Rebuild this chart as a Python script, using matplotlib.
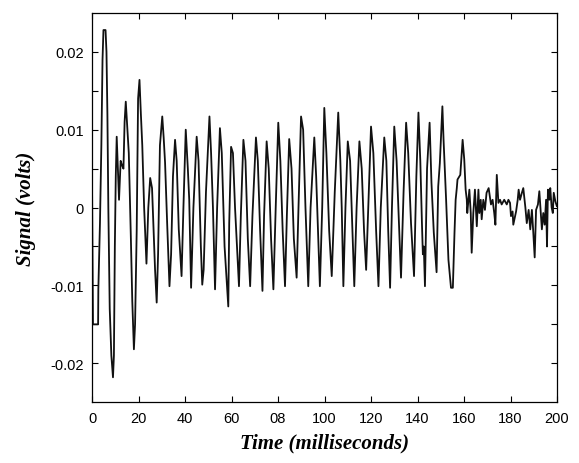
import matplotlib
matplotlib.use("Agg")
import matplotlib.pyplot as plt
from matplotlib.ticker import FixedLocator, FixedFormatter

# values (time in ms, signal in volts)
time_ms = [
    0.0, 0.4, 2.6, 2.7, 3.4, 4.0, 4.5, 4.9, 5.8, 6.2, 6.6, 7.0, 7.6, 8.3, 9.0, 9.4,
    9.8, 10.2, 10.6, 11.0, 11.6, 12.3, 12.8, 13.5, 14.0, 14.5, 15.2, 15.8, 16.7, 17.3,
    18.0, 18.5, 19.2, 19.8, 20.4, 21.0, 21.6, 22.4, 23.4, 24.2, 25.0, 25.8, 26.5, 27.1,
    27.8, 28.4, 29.2, 30.2, 30.8, 31.4, 32.3, 33.3, 34.0, 34.8, 35.7, 36.4, 37.3, 38.5,
    39.3, 40.3, 41.2, 41.8, 42.6, 43.6, 45.0, 45.8, 46.8, 47.4, 48.0, 49.0, 50.5, 51.2,
    52.0, 52.9, 53.8, 55.0, 55.8, 57.0, 58.6, 59.0, 59.8, 60.6, 61.5, 63.2, 64.0, 65.1,
    66.0, 67.0, 68.0, 69.0, 70.5, 71.3, 72.3, 73.3, 74.0, 75.1, 76.0, 77.0, 78.0, 79.0,
    80.1, 81.0, 82.0, 83.0, 83.8, 84.8, 85.8, 86.8, 88.0, 88.8, 89.9, 90.8, 91.8, 93.0,
    94.0, 95.6, 96.4, 97.2, 98.0, 99.0, 99.9, 100.8, 102.0, 103.1, 104.4, 105.9, 106.8,
    107.4, 108.1, 109.0, 110.0, 111.0, 112.0, 112.8, 113.8, 115.0, 116.0, 117.0, 117.9,
    118.8, 120.0, 121.0, 122.2, 123.2, 124.2, 125.7, 126.6, 127.4, 128.2, 129.0, 130.0,
    131.0, 132.0, 132.9, 134.0, 135.1, 136.0, 137.2, 138.5, 139.5, 140.4, 141.2, 141.9,
    142.3, 142.7, 143.2, 144.1, 145.2, 146.0, 147.0, 148.2, 148.9, 149.6, 150.7, 151.2,
    152.3, 153.3, 154.4, 155.2, 155.9, 156.4, 156.9, 157.2, 158.4, 159.4, 160.1, 160.7,
    161.2, 161.4, 162.3, 162.9, 163.3, 164.0, 164.7, 165.5, 166.2, 166.6, 167.2, 167.6,
    168.3, 169.0, 169.7, 170.6, 171.6, 172.3, 173.0, 173.5, 174.1, 174.8, 175.5, 176.2,
    177.3, 178.4, 179.1, 179.8, 180.2, 180.9, 181.2, 182.4, 183.1, 183.5, 184.1, 184.9,
    185.5, 186.4, 187.0, 187.8, 188.5, 189.2, 189.8, 190.4, 191.0, 191.8, 192.4, 193.1,
    193.5, 194.1, 194.7, 195.3, 195.7, 196.1, 196.7, 197.1, 197.7, 198.2, 198.6, 199.3,
    199.9,
]
signal_v = [
    0.0025, -0.0150, -0.0150, -0.0105, -0.0020, 0.0080, 0.0190, 0.0228, 0.0228, 0.0200,
    0.0120, 0.0000, -0.0130, -0.0190, -0.0218, -0.0190, -0.0050, 0.0040, 0.0091, 0.0060,
    0.0010, 0.0060, 0.0055, 0.0050, 0.0110, 0.0136, 0.0100, 0.0070, -0.0040, -0.0120,
    -0.0182, -0.0150, -0.0030, 0.0140, 0.0164, 0.0120, 0.0080, 0.0000, -0.0072, 0.0000,
    0.0038, 0.0025, -0.0030, -0.0080, -0.0122, -0.0060, 0.0080, 0.0117, 0.0090, 0.0058,
    -0.0020, -0.0101, -0.0060, 0.0040, 0.0087, 0.0060, -0.0028, -0.0088, 0.0000, 0.0100,
    0.0050, 0.0010, -0.0103, 0.0000, 0.0091, 0.0060, -0.0050, -0.0099, -0.0080, 0.0020,
    0.0117, 0.0070, 0.0000, -0.0105, 0.0000, 0.0102, 0.0070, -0.0050, -0.0127, -0.0020,
    0.0078, 0.0070, 0.0000, -0.0101, -0.0010, 0.0087, 0.0060, -0.0040, -0.0101, -0.0010,
    0.0090, 0.0060, -0.0030, -0.0107, -0.0010, 0.0085, 0.0050, -0.0040, -0.0105, 0.0000,
    0.0109, 0.0060, -0.0030, -0.0101, -0.0010, 0.0088, 0.0050, -0.0040, -0.0090, 0.0000,
    0.0117, 0.0100, 0.0000, -0.0101, 0.0000, 0.0090, 0.0040, -0.0030, -0.0101, 0.0000,
    0.0128, 0.0070, -0.0030, -0.0088, 0.0020, 0.0122, 0.0060, 0.0000, -0.0101, 0.0000,
    0.0085, 0.0060, -0.0030, -0.0101, 0.0000, 0.0085, 0.0050, -0.0030, -0.0080, 0.0000,
    0.0104, 0.0070, -0.0030, -0.0101, 0.0000, 0.0090, 0.0060, -0.0030, -0.0103, 0.0000,
    0.0104, 0.0060, -0.0020, -0.0090, 0.0020, 0.0109, 0.0070, -0.0020, -0.0088, 0.0040,
    0.0122, 0.0060, -0.0020, -0.0060, -0.0050, -0.0101, 0.0050, 0.0109, 0.0032, -0.0032,
    -0.0083, 0.0027, 0.0057, 0.0130, 0.0087, 0.0010, -0.0067, -0.0103, -0.0103, -0.0033,
    0.0010, 0.0025, 0.0036, 0.0042, 0.0087, 0.0062, 0.0023, 0.0010, -0.0007, 0.0023,
    -0.0007, -0.0058, -0.0007, 0.0023, -0.0024, 0.0023, -0.0007, 0.0010, -0.0015, 0.0010,
    -0.0003, 0.0019, 0.0025, 0.0004, 0.0010, -0.0007, -0.0022, 0.0042, 0.0006, 0.0010,
    0.0004, 0.0010, 0.0004, 0.0010, 0.0006, -0.0011, -0.0005, -0.0022, -0.0005, 0.0010,
    0.0023, 0.0010, 0.0019, 0.0025, 0.0000, -0.0020, -0.0003, -0.0028, -0.0003, -0.0032,
    -0.0064, -0.0003, 0.0004, 0.0021, -0.0011, -0.0028, -0.0007, -0.0022, 0.0010, -0.0050,
    0.0023, 0.0010, 0.0025, 0.0000, -0.0007, 0.0019, 0.0008, 0.0002,
]

x_ticks = [0, 20, 40, 60, 80, 100, 120, 140, 160, 180, 200]
x_labels = ["0", "20", "40", "60", "08", "100", "120", "140", "160", "180", "200"]
y_ticks = [-0.02, -0.015, -0.01, -0.005, 0, 0.005, 0.01, 0.015, 0.02]
y_labels = ["-0.02", "", "-0.01", "", "0", "", "0.01", "", "0.02"]

fig = plt.figure(figsize=(5.79, 4.64), dpi=100)
ax = fig.add_axes([0.159, 0.131, 0.803, 0.839])

ax.plot(time_ms, signal_v, color="#111111", linewidth=1.3)

ax.set_xlim(0, 200)
ax.set_ylim(-0.025, 0.025)
ax.xaxis.set_major_locator(FixedLocator(x_ticks))
ax.xaxis.set_major_formatter(FixedFormatter(x_labels))
ax.yaxis.set_major_locator(FixedLocator(y_ticks))
ax.yaxis.set_major_formatter(FixedFormatter(y_labels))
ax.tick_params(direction="in", top=True, right=True, length=4, width=0.8,
               labelsize=10.5, pad=6)
for lab in ax.get_xticklabels() + ax.get_yticklabels():
    lab.set_family("Liberation Sans")
for sp in ax.spines.values():
    sp.set_linewidth(0.9)

lbl = dict(family="Liberation Serif", weight="bold", style="italic", fontsize=15)
ax.set_xlabel("Time (milliseconds)", labelpad=6, **lbl)
ax.set_ylabel("Signal (volts)", labelpad=10, **lbl)

fig.savefig("out.png", dpi=100)
